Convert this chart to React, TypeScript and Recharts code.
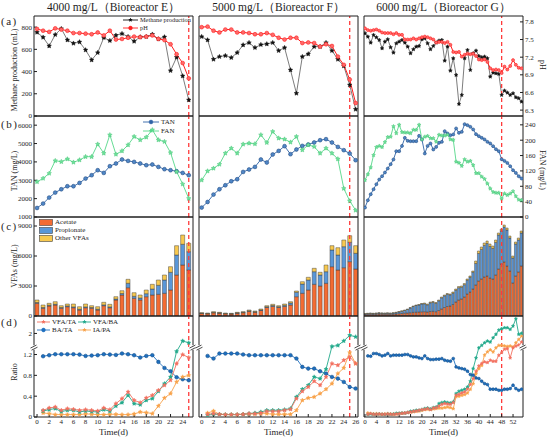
import React from 'react';
import { Bar, ComposedChart, Line, ReferenceDot, ReferenceLine, XAxis, YAxis } from 'recharts';

const FONT = '"Liberation Serif", "Times New Roman", serif';
const INK = '#1e1e1e';

// ---- days (x values) ----
const daysE = [0, 1, 2, 3, 4, 5, 6, 7, 8, 9, 10, 11, 12, 13, 14, 15, 16, 17, 18, 19, 20, 21, 22, 23, 24, 25];
const daysF = [0, 1, 2, 3, 4, 5, 6, 7, 8, 9, 10, 11, 12, 13, 14, 15, 16, 17, 18, 19, 20, 21, 22, 23, 24, 25, 26];
const daysG = [
  0, 1, 2, 3, 4, 5, 6, 7, 8, 9, 10, 11, 12, 13, 14, 15, 16, 17, 18, 19, 20, 21, 22, 23, 24, 25, 26, 27,
  28, 29, 30, 31, 32, 33, 34, 35, 36, 37, 38, 39, 40, 41, 42, 43, 44, 45, 46, 47, 48, 49, 50, 51, 52, 53, 54, 55,
];

// ---- tick labels ----
const ticksE = [0, 2, 4, 6, 8, 10, 12, 14, 16, 18, 20, 22, 24];
const ticksF = [0, 2, 4, 6, 8, 10, 12, 14, 16, 18, 20, 22, 24, 26];
const ticksG = [0, 4, 8, 12, 16, 20, 24, 28, 32, 36, 40, 44, 48, 52];
const minorG = [0, 2, 4, 6, 8, 10, 12, 14, 16, 18, 20, 22, 24, 26, 28, 30, 32, 34, 36, 38, 40, 42, 44, 46, 48, 50, 52, 54];
const methaneTicks = [0, 200, 400, 600, 800];
const phTicks = [6.3, 6.6, 6.9, 7.2, 7.5, 7.8];
const tanTicks = [1000, 2000, 3000, 4000, 5000, 6000];
const fanTicks = [0, 40, 80, 120, 160, 200, 240];
const vfaTicks = [0, 3000, 6000, 9000];
const ratioTicks = [0, 0.4, 0.8, 1.2, 2];
const ratioLabels = ['0', '0.4', '0.8', '1.2', '2'];

// ---- (a) methane production (mL) and pH ----
const methaneE = [753, 708, 630, 732, 786, 684, 654, 666, 594, 504, 570, 705, 678, 726, 741, 714, 672, 711, 714, 735, 693, 711, 408, 528, 360, 144];
const phE = [7.68, 7.65, 7.63, 7.69, 7.67, 7.65, 7.61, 7.61, 7.6, 7.59, 7.62, 7.57, 7.65, 7.5, 7.51, 7.53, 7.55, 7.54, 7.55, 7.57, 7.51, 7.49, 7.42, 7.25, 7.1, 6.84];
const methaneF = [714, 684, 510, 534, 543, 525, 570, 639, 660, 615, 642, 648, 660, 588, 615, 414, 204, 534, 558, 624, 624, 660, 588, 510, 450, 279, 60];
const phF = [7.71, 7.72, 7.65, 7.62, 7.67, 7.67, 7.62, 7.62, 7.61, 7.59, 7.59, 7.61, 7.58, 7.53, 7.5, 7.53, 7.53, 7.44, 7.45, 7.44, 7.38, 7.42, 7.39, 7.21, 7.07, 6.82, 6.42];
const methaneG = [
  744, 714, 660, 729, 708, 684, 609, 669, 690, 618, 570, 654, 669, 684, 660, 624, 564, 600, 624, 630, 690, 699, 654, 600, 630, 660, 678, 684,
  498, 624, 408, 519, 369, 108, 189, 519, 594, 414, 564, 588, 540, 528, 534, 519, 354, 390, 384, 378, 189, 228, 210, 189, 204, 168, 159, 129,
];
const phG = [
  7.69, 7.66, 7.65, 7.66, 7.67, 7.65, 7.62, 7.61, 7.61, 7.61, 7.59, 7.61, 7.58, 7.58, 7.5, 7.5, 7.5, 7.52, 7.5, 7.52, 7.54, 7.55, 7.54, 7.52, 7.5, 7.45, 7.46, 7.46,
  7.44, 7.46, 7.41, 7.29, 7.28, 7.29, 7.21, 7.24, 7.26, 7.25, 7.26, 7.22, 7.16, 7.15, 7.16, 7.12, 7.01, 6.98, 6.99, 6.98, 6.93, 7.04, 6.99, 7.05, 7.15, 7.07, 7.02, 7.01,
];

// ---- (b) TAN and FAN (mg/L) ----
const tanE = [1491, 1731, 2058, 2331, 2511, 2675, 2675, 2855, 3095, 3275, 3548, 3401, 3766, 3913, 4131, 4055, 4000, 3913, 3820, 3858, 3728, 3602, 3548, 3493, 3401, 3275];
const fanE = [91.6, 100.5, 113.6, 146.6, 144, 151, 142.4, 148.4, 157, 157, 189.5, 166, 213.8, 163.3, 172, 187.6, 209.4, 200.7, 207.8, 226.9, 200.7, 196.3, 167.5, 117.8, 85.6, 48.2];
const tanF = [1513, 1818, 2222, 2511, 2729, 2947, 3057, 3455, 3586, 3728, 4131, 3967, 4404, 4600, 4857, 4420, 4677, 4873, 4949, 5058, 5184, 5239, 5058, 4818, 4638, 4458, 4093];
const fanF = [96, 119.6, 126.7, 137.1, 166, 179, 166, 189.5, 192, 190.3, 213.8, 193.7, 222.4, 205.2, 202.6, 194.7, 209.4, 174.6, 187.6, 183.2, 166, 179, 166, 151, 74.3, 41.9, 17.5];
const tanG = [
  1513, 1911, 2238, 2511, 2784, 3040, 3220, 3422, 3640, 3875, 4131, 4584, 4584, 4873, 5309, 5146, 5129, 5129, 5129, 5419, 5222, 4458, 4873, 5004, 4677, 4818, 5037, 5091,
  5675, 5549, 5457, 5495, 5822, 5582, 5637, 6057, 6002, 5910, 5768, 5511, 5402, 5309, 5222, 5091, 5004, 4857, 4693, 4584, 4148, 4055, 3946, 3766, 3547, 3400, 3220, 3095,
];
const fanG = [
  96, 111, 129, 161, 182, 185, 182, 195, 208, 209, 236, 218, 240, 221, 220, 220, 218, 227, 227, 240, 202, 209, 211, 205, 205, 196, 214, 212,
  212, 214, 202, 201, 144, 141, 133, 150, 144, 146, 135, 114, 114, 105, 99, 87, 74, 65, 63, 63, 48, 61, 57, 61, 67, 54, 45, 44,
];

// ---- (c) VFAs (mg/L) ----
const acetE = [1270, 770, 1000, 1100, 770, 930, 830, 600, 830, 770, 600, 1030, 830, 1600, 2100, 2830, 1770, 1600, 1930, 2100, 2170, 2270, 2600, 4100, 5100, 4600];
const propE = [80, 80, 80, 80, 80, 80, 80, 80, 80, 80, 80, 80, 80, 100, 150, 440, 200, 200, 300, 600, 900, 1330, 1770, 2000, 2070, 1830];
const otherE = [250, 250, 190, 250, 180, 190, 290, 250, 290, 180, 250, 260, 260, 230, 280, 400, 360, 300, 370, 470, 530, 500, 560, 930, 930, 840];
const acetF = [250, 220, 320, 280, 220, 200, 280, 330, 470, 380, 550, 850, 950, 850, 950, 1100, 1930, 2270, 2600, 3170, 3000, 3270, 4930, 4600, 4830, 5430, 4700];
const propF = [30, 30, 40, 30, 30, 30, 30, 40, 50, 50, 60, 80, 100, 80, 120, 200, 440, 930, 1000, 1260, 1100, 1160, 1670, 1500, 2100, 1940, 1570];
const otherF = [50, 50, 70, 60, 50, 40, 60, 60, 80, 70, 90, 100, 120, 100, 130, 130, 130, 230, 270, 340, 270, 670, 430, 730, 670, 660, 760];
const acetG = [
  150, 160, 170, 160, 170, 190, 180, 170, 180, 170, 180, 200, 230, 250, 280, 300, 330, 360, 380, 400, 420, 430, 400, 450, 470, 430, 550, 700,
  850, 950, 1000, 1150, 1400, 1600, 1700, 1900, 2200, 2400, 2700, 3100, 3500, 3700, 3900, 4000, 3800, 3700, 4100, 4700, 5200, 5400, 5000, 4500, 3300, 4000, 4400, 5000,
];
const propG = [
  60, 80, 90, 80, 90, 100, 90, 90, 100, 90, 110, 130, 170, 220, 270, 350, 470, 590, 670, 700, 780, 790, 720, 870, 900, 840, 970, 1120,
  1170, 1220, 1120, 1130, 1180, 1230, 1180, 1230, 1380, 1480, 1680, 2150, 2750, 2950, 3150, 3250, 3150, 3050, 3250, 3400, 3300, 3500, 3600, 3300, 2500, 3200, 3200, 3300,
];
const otherG = [
  40, 40, 40, 40, 40, 40, 40, 40, 40, 40, 40, 50, 50, 50, 50, 50, 50, 50, 50, 50, 50, 80, 80, 80, 80, 80, 80, 80,
  80, 80, 80, 120, 120, 120, 120, 120, 120, 120, 120, 250, 250, 250, 250, 250, 250, 250, 250, 200, 200, 200, 200, 200, 200, 200, 200, 200,
];

// ---- (d) ratios, from day 1 ----
const vfaTaE = [0.129, 0.173, 0.192, 0.129, 0.16, 0.148, 0.129, 0.142, 0.129, 0.115, 0.173, 0.142, 0.257, 0.353, 0.481, 0.321, 0.277, 0.366, 0.417, 0.513, 0.609, 0.706, 1.026, 1.199, 1.142];
const vfaBaE = [0.115, 0.142, 0.162, 0.104, 0.129, 0.129, 0.096, 0.115, 0.104, 0.096, 0.142, 0.11, 0.212, 0.277, 0.417, 0.258, 0.238, 0.321, 0.354, 0.494, 0.642, 0.769, 1.26, 1.71, 1.64];
const baTaE = [1.167, 1.187, 1.206, 1.206, 1.206, 1.206, 1.199, 1.173, 1.18, 1.187, 1.206, 1.199, 1.192, 1.219, 1.206, 1.187, 1.142, 1.173, 1.187, 1.058, 0.942, 0.879, 0.763, 0.725, 0.706];
const iaPaE = [0.077, 0.065, 0.046, 0.046, 0.046, 0.046, 0.046, 0.058, 0.052, 0.046, 0.046, 0.052, 0.052, 0.046, 0.046, 0.058, 0.096, 0.085, 0.065, 0.212, 0.365, 0.45, 0.673, 0.769, 0.8];
const vfaTaF = [0.052, 0.065, 0.052, 0.046, 0.046, 0.046, 0.052, 0.065, 0.065, 0.077, 0.11, 0.11, 0.11, 0.129, 0.148, 0.354, 0.494, 0.577, 0.687, 0.61, 0.769, 1.027, 0.994, 1.09, 1.154, 1.027];
const vfaBaF = [0.033, 0.052, 0.052, 0.046, 0.046, 0.046, 0.052, 0.065, 0.077, 0.096, 0.129, 0.129, 0.129, 0.142, 0.162, 0.385, 0.533, 0.61, 0.769, 0.738, 0.917, 1.5, 1.54, 1.71, 1.93, 1.87];
const baTaF = [1.173, 1.123, 1.219, 1.219, 1.219, 1.219, 1.2, 1.187, 1.187, 1.187, 1.187, 1.187, 1.187, 1.187, 1.187, 1.123, 0.962, 0.93, 0.93, 0.879, 0.834, 0.769, 0.738, 0.673, 0.577, 0.546];
const iaPaF = [0.077, 0.115, 0.052, 0.046, 0.046, 0.046, 0.052, 0.058, 0.058, 0.065, 0.065, 0.052, 0.052, 0.052, 0.052, 0.129, 0.321, 0.365, 0.385, 0.45, 0.533, 0.642, 0.835, 0.942, 1.238, 1.027];
const vfaTaG = [
  0.052, 0.065, 0.052, 0.052, 0.058, 0.052, 0.052, 0.058, 0.052, 0.052, 0.058, 0.065, 0.071, 0.077, 0.085, 0.096, 0.11, 0.115, 0.129, 0.142,
  0.148, 0.162, 0.142, 0.173, 0.181, 0.212, 0.244, 0.258, 0.25, 0.244, 0.277, 0.417, 0.437, 0.462, 0.481, 0.533, 0.623, 0.738, 0.879, 0.981,
  1.027, 1.058, 1.046, 1.09, 1.071, 1.071, 1.187, 1.238, 1.302, 1.315, 1.135, 1.33, 1.515, 1.554, 1.669,
];
const vfaBaG = [
  0.046, 0.058, 0.052, 0.052, 0.058, 0.052, 0.046, 0.058, 0.052, 0.058, 0.071, 0.071, 0.077, 0.077, 0.085, 0.11, 0.115, 0.129, 0.129, 0.142,
  0.162, 0.173, 0.155, 0.181, 0.192, 0.258, 0.277, 0.29, 0.277, 0.27, 0.29, 0.45, 0.494, 0.513, 0.533, 0.577, 0.687, 0.93, 1.135, 1.33,
  1.542, 1.642, 1.708, 1.669, 1.835, 1.965, 2.13, 2.18, 2.22, 2.22, 2.157, 2.285, 2.565, 1.965, 2.004,
];
const baTaG = [
  1.173, 1.167, 1.219, 1.219, 1.2, 1.173, 1.187, 1.219, 1.173, 1.187, 1.187, 1.187, 1.187, 1.2, 1.2, 1.173, 1.154, 1.154, 1.135, 1.123,
  1.173, 1.123, 1.103, 1.103, 1.11, 1.11, 1.123, 1.09, 1.077, 1.071, 1.123, 0.962, 0.942, 0.93, 0.917, 0.879, 0.815, 0.802, 0.75, 0.738,
  0.687, 0.642, 0.623, 0.533, 0.533, 0.533, 0.513, 0.513, 0.533, 0.533, 0.546, 0.61, 0.546, 0.513, 0.533,
];
const iaPaG = [
  0.077, 0.065, 0.058, 0.065, 0.058, 0.052, 0.058, 0.065, 0.058, 0.052, 0.058, 0.065, 0.071, 0.077, 0.085, 0.096, 0.1, 0.11, 0.115, 0.129,
  0.142, 0.148, 0.142, 0.155, 0.162, 0.173, 0.17, 0.181, 0.19, 0.18, 0.16, 0.39, 0.4, 0.417, 0.43, 0.46, 0.53, 0.64, 0.83, 0.93,
  0.99, 1.19, 1.25, 1.29, 1.25, 1.33, 1.54, 1.54, 1.52, 1.5, 1.52, 1.48, 1.64, 1.77, 1.9,
];

const C = {
  methane: '#111111',
  methaneLine: '#5a5a5a',
  ph: '#ff1e1e',
  tan: '#2f63a6',
  fan: '#55d889',
  acet: '#f36b32',
  prop: '#5a97d8',
  other: '#f8c94f',
  vfaTa: '#f3705f',
  vfaBa: '#22a98b',
  baTa: '#1e6fbf',
  iaPa: '#f8a24a',
  cut: '#ff3a3a',
};

// axis break on the ratio panels: 0–1.33 below, 1.45 and up squeezed above
const brk = (v: number) => (v <= 1.33 ? v : 1.33 + Math.max(0, v - 1.45) * 0.5);

// layout of the 3 x 4 grid of plot areas (pixels)
const COLS = [
  { left: 34, width: 159, domain: [-0.5, 25.7], major: ticksE, minor: daysE, cut: 25 },
  { left: 199, width: 159, domain: [-0.45, 26.4], major: ticksF, minor: daysF, cut: 25 },
  { left: 364, width: 159, domain: [-0.35, 55.5], major: ticksG, minor: minorG, cut: 48 },
];
const ROWS = [
  { top: 16, height: 100 },
  { top: 116, height: 101 },
  { top: 217, height: 99 },
  { top: 316, height: 101 },
];
const ML = 40;
const MR = 32;
const MT = 4;
const MB = 16;
const AX = 1; // axes get 1px so recharts draws them

function table(days: number[], cols: Record<string, number[]>, map: (v: number) => number = (v) => v) {
  return days.map((day, i) => {
    const row: Record<string, number> = { day };
    Object.keys(cols).forEach((k) => {
      row[k] = map(cols[k][i]);
    });
    return row;
  });
}

function starDot(fill: string, r: number, stroke = fill) {
  return (p: any) => {
    const { cx, cy, index } = p;
    if (cx == null || cy == null) return <g key={`s${index}`} />;
    const pts: string[] = [];
    for (let i = 0; i < 10; i++) {
      const a = -Math.PI / 2 + (i * Math.PI) / 5;
      const rr = i % 2 ? r * 0.5 : r;
      pts.push(`${(cx + rr * Math.cos(a)).toFixed(2)},${(cy + rr * Math.sin(a)).toFixed(2)}`);
    }
    return <polygon key={`s${index}`} points={pts.join(' ')} fill={fill} stroke={stroke} strokeWidth={0.4} />;
  };
}

function ringDot(fill: string, stroke: string, r: number) {
  return (p: any) => {
    const { cx, cy, index } = p;
    if (cx == null || cy == null) return <g key={`c${index}`} />;
    return <circle key={`c${index}`} cx={cx} cy={cy} r={r} fill={fill} stroke={stroke} strokeWidth={0.6} />;
  };
}

const breakShape = (p: any) => (
  <g>
    <rect x={p.cx - 3.5} y={p.cy - 2.5} width={7} height={4.5} fill="#fff" />
    <line x1={p.cx - 3.5} y1={p.cy + 0.3} x2={p.cx + 2.5} y2={p.cy - 2.7} stroke={INK} strokeWidth={0.8} />
    <line x1={p.cx - 2.5} y1={p.cy + 2.4} x2={p.cx + 3.5} y2={p.cy - 0.6} stroke={INK} strokeWidth={0.8} />
  </g>
);

type AxisCfg = { domain: number[]; ticks: number[]; fmt?: (v: number, i: number) => string };

const tickFont = { fontSize: 7, fill: INK, fontFamily: FONT };

function Panel(props: {
  ci: number;
  ri: number;
  data: Record<string, number>[];
  yl: AxisCfg;
  yr: AxisCfg;
  rightLabels?: boolean;
  broken?: boolean;
  children: React.ReactNode;
}) {
  const { ci, ri, data, yl, yr, rightLabels, broken, children } = props;
  const col = COLS[ci];
  const row = ROWS[ri];
  const w = col.width + ML + MR;
  const h = row.height + MT + MB;
  return (
    <div style={{ position: 'absolute', left: col.left - ML, top: row.top - MT, width: w, height: h }}>
      <ComposedChart
        width={w}
        height={h}
        data={data}
        margin={{ top: MT - AX, right: MR - AX, bottom: MB - AX, left: ML - AX }}
      >
        <XAxis
          xAxisId="b"
          type="number"
          dataKey="day"
          domain={col.domain}
          ticks={col.major}
          interval={0}
          allowDataOverflow
          height={AX}
          tickSize={-3}
          tickMargin={5}
          tick={ri === 3 ? tickFont : false}
          stroke={INK}
        />
        <XAxis
          xAxisId="t"
          orientation="top"
          type="number"
          dataKey="day"
          domain={col.domain}
          ticks={col.minor}
          interval={0}
          allowDataOverflow
          height={AX}
          tickSize={-2}
          tick={false}
          stroke={INK}
        />
        <YAxis
          yAxisId="l"
          type="number"
          domain={yl.domain}
          ticks={yl.ticks}
          interval={0}
          allowDataOverflow
          width={AX}
          tickSize={-3}
          tickMargin={5}
          tick={ci === 0 ? tickFont : false}
          tickFormatter={yl.fmt}
          stroke={INK}
        />
        <YAxis
          yAxisId="r"
          orientation="right"
          type="number"
          domain={yr.domain}
          ticks={yr.ticks}
          interval={0}
          allowDataOverflow
          width={AX}
          tickSize={-3}
          tickMargin={5}
          tick={ci === 2 && rightLabels ? tickFont : false}
          tickFormatter={yr.fmt}
          stroke={INK}
        />
        {children}
        <ReferenceLine xAxisId="b" yAxisId="l" x={col.cut} stroke={C.cut} strokeDasharray="4 3" strokeWidth={1.3} />
        {broken && (
          <ReferenceDot xAxisId="b" yAxisId="l" x={col.domain[0]} y={1.33} r={0} ifOverflow="visible" shape={breakShape} />
        )}
        {broken && (
          <ReferenceDot xAxisId="b" yAxisId="l" x={col.domain[1]} y={1.33} r={0} ifOverflow="visible" shape={breakShape} />
        )}
      </ComposedChart>
    </div>
  );
}

const methaneAxis: AxisCfg = { domain: [0, 900], ticks: methaneTicks };
const phAxis: AxisCfg = { domain: [6.2, 7.9], ticks: phTicks, fmt: (v) => v.toFixed(1) };
const tanAxis: AxisCfg = { domain: [1000, 6500], ticks: tanTicks };
const fanAxis: AxisCfg = { domain: [0, 263], ticks: fanTicks };
const vfaAxis: AxisCfg = { domain: [0, 9900], ticks: vfaTicks };
const ratioAxis: AxisCfg = { domain: [0, 1.94], ticks: ratioTicks.map(brk), fmt: (_v, i) => ratioLabels[i] };

const groups = [
  {
    a: table(daysE, { methane: methaneE, ph: phE }),
    b: table(daysE, { tan: tanE, fan: fanE }),
    c: table(daysE, { acet: acetE, prop: propE, other: otherE }),
    d: table(daysE.slice(1), { vfaTa: vfaTaE, vfaBa: vfaBaE, baTa: baTaE, iaPa: iaPaE }, brk),
  },
  {
    a: table(daysF, { methane: methaneF, ph: phF }),
    b: table(daysF, { tan: tanF, fan: fanF }),
    c: table(daysF, { acet: acetF, prop: propF, other: otherF }),
    d: table(daysF.slice(1), { vfaTa: vfaTaF, vfaBa: vfaBaF, baTa: baTaF, iaPa: iaPaF }, brk),
  },
  {
    a: table(daysG, { methane: methaneG, ph: phG }),
    b: table(daysG, { tan: tanG, fan: fanG }),
    c: table(daysG, { acet: acetG, prop: propG, other: otherG }),
    d: table(daysG.slice(1), { vfaTa: vfaTaG, vfaBa: vfaBaG, baTa: baTaG, iaPa: iaPaG }, brk),
  },
];

const titles = ['4000 mg/L（Bioreactor E）', '5000 mg/L（Bioreactor F）', '6000 mg/L（Bioreactor G）'];

function Sample({ color, dot, w = 16 }: { color: string; dot: 'star' | 'circle' | 'rect'; w?: number }) {
  if (dot === 'rect') {
    return (
      <svg width={14} height={7} style={{ display: 'block' }}>
        <rect x={0.5} y={0.5} width={13} height={6} fill={color} stroke="#444" strokeWidth={0.6} />
      </svg>
    );
  }
  const cx = w / 2;
  const pts: string[] = [];
  for (let i = 0; i < 10; i++) {
    const a = -Math.PI / 2 + (i * Math.PI) / 5;
    const rr = i % 2 ? 1.1 : 2.3;
    pts.push(`${cx + rr * Math.cos(a)},${4 + rr * Math.sin(a)}`);
  }
  return (
    <svg width={w} height={8} style={{ display: 'block' }}>
      <line x1={0} y1={4} x2={w} y2={4} stroke={color} strokeWidth={0.9} />
      {dot === 'star' ? (
        <polygon points={pts.join(' ')} fill={color} />
      ) : (
        <circle cx={cx} cy={4} r={1.9} fill={color} stroke={color} strokeWidth={0.5} />
      )}
    </svg>
  );
}

function Key(props: { x: number; y: number; color: string; dot: 'star' | 'circle' | 'rect'; label: string; w?: number; size?: number }) {
  const { x, y, color, dot, label, w, size = 7 } = props;
  return (
    <div
      style={{
        position: 'absolute',
        left: x,
        top: y - 4,
        height: 8,
        display: 'flex',
        alignItems: 'center',
        gap: 2,
        fontFamily: FONT,
        fontSize: size,
        color: INK,
        whiteSpace: 'nowrap',
        lineHeight: '8px',
      }}
    >
      <Sample color={color} dot={dot} w={w} />
      <span>{label}</span>
    </div>
  );
}

function VText({ x, y, text, rot, size = 8 }: { x: number; y: number; text: string; rot: number; size?: number }) {
  return (
    <div
      style={{
        position: 'absolute',
        left: x,
        top: y,
        transform: `translate(-50%, -50%) rotate(${rot}deg)`,
        fontFamily: FONT,
        fontSize: size,
        color: INK,
        whiteSpace: 'nowrap',
      }}
    >
      {text}
    </div>
  );
}

export default function App() {
  return (
    <div style={{ position: 'absolute', left: 0, top: 0, width: 550, height: 438, background: '#fff', overflow: 'hidden' }}>
      {groups.map((g, ci) => (
        <React.Fragment key={ci}>
          <Panel ci={ci} ri={0} data={g.a} yl={methaneAxis} yr={phAxis} rightLabels>
            <Line
              xAxisId="b"
              yAxisId="l"
              dataKey="methane"
              stroke={C.methaneLine}
              strokeWidth={0.8}
              dot={starDot(C.methane, ci === 2 ? 2 : 2.4)}
              isAnimationActive={false}
            />
            <Line
              xAxisId="b"
              yAxisId="r"
              dataKey="ph"
              stroke={C.ph}
              strokeWidth={1}
              dot={ringDot('#ff6a6a', C.ph, ci === 2 ? 1.5 : 1.9)}
              isAnimationActive={false}
            />
          </Panel>
          <Panel ci={ci} ri={1} data={g.b} yl={tanAxis} yr={fanAxis} rightLabels>
            <Line
              xAxisId="b"
              yAxisId="l"
              dataKey="tan"
              stroke={C.tan}
              strokeWidth={0.9}
              dot={ringDot('#4f86c6', '#264f85', ci === 2 ? 1.5 : 1.9)}
              isAnimationActive={false}
            />
            <Line
              xAxisId="b"
              yAxisId="r"
              dataKey="fan"
              stroke={C.fan}
              strokeWidth={0.9}
              dot={starDot('#6fe09a', ci === 2 ? 2 : 2.4, '#3fbf72')}
              isAnimationActive={false}
            />
          </Panel>
          <Panel ci={ci} ri={2} data={g.c} yl={vfaAxis} yr={vfaAxis}>
            {[
              ['acet', C.acet],
              ['prop', C.prop],
              ['other', C.other],
            ].map(([k, color]) => (
              <Bar
                key={k}
                xAxisId="b"
                yAxisId="l"
                dataKey={k}
                stackId="vfa"
                fill={color}
                stroke="#3a3a3a"
                strokeWidth={0.45}
                barSize={ci === 2 ? 2.2 : 4}
                isAnimationActive={false}
              />
            ))}
          </Panel>
          <Panel ci={ci} ri={3} data={g.d} yl={ratioAxis} yr={ratioAxis} broken>
            {[
              ['baTa', C.baTa, 'circle'],
              ['iaPa', C.iaPa, 'star'],
              ['vfaBa', C.vfaBa, 'star'],
              ['vfaTa', C.vfaTa, 'star'],
            ].map(([k, color, m]) => (
              <Line
                key={k}
                xAxisId="b"
                yAxisId="l"
                dataKey={k}
                stroke={color}
                strokeWidth={0.9}
                dot={m === 'circle' ? ringDot(color, '#15508c', ci === 2 ? 1.4 : 1.8) : starDot(color, ci === 2 ? 1.8 : 2.2)}
                isAnimationActive={false}
              />
            ))}
          </Panel>
          <div
            style={{
              position: 'absolute',
              left: COLS[ci].left,
              width: COLS[ci].width,
              top: 0,
              textAlign: 'center',
              fontFamily: FONT,
              fontSize: 11.5,
              lineHeight: '15px',
              color: INK,
              whiteSpace: 'nowrap',
            }}
          >
            {titles[ci]}
          </div>
          <div
            style={{
              position: 'absolute',
              left: COLS[ci].left,
              width: COLS[ci].width,
              top: 426,
              textAlign: 'center',
              fontFamily: FONT,
              fontSize: 9,
              lineHeight: '12px',
              color: INK,
            }}
          >
            Time(d)
          </div>
        </React.Fragment>
      ))}

      {['(a)', '(b)', '(c)', '(d)'].map((t, i) => (
        <div
          key={t}
          style={{
            position: 'absolute',
            left: 1,
            top: [15, 118, 220, 316][i],
            fontFamily: FONT,
            fontSize: 11,
            lineHeight: '13px',
            letterSpacing: 1.5,
            color: INK,
          }}
        >
          {t}
        </div>
      ))}

      <VText x={14} y={70} text="Methane production (mL)" rot={-90} />
      <VText x={14} y={171} text="TAN (mg/L)" rot={-90} />
      <VText x={14} y={266} text="VFAs (mg/L)" rot={-90} />
      <VText x={14} y={372} text="Ratio" rot={-90} />
      <VText x={542} y={65} text="pH" rot={90} />
      <VText x={542} y={170} text="FAN (mg/L)" rot={90} />

      <Key x={123} y={20} color={C.methane} dot="star" label="Methane production" size={6.3} w={15} />
      <Key x={123} y={28} color={C.ph} dot="circle" label="pH" size={6.3} w={15} />
      <Key x={143} y={122} color={C.tan} dot="circle" label="TAN" />
      <Key x={143} y={131} color={C.fan} dot="star" label="FAN" />
      <Key x={39} y={222} color={C.acet} dot="rect" label="Acetate" />
      <Key x={39} y={230} color={C.prop} dot="rect" label="Propionate" />
      <Key x={39} y={238} color={C.other} dot="rect" label="Other VFAs" />
      <Key x={37} y={322} color={C.vfaTa} dot="star" label="VFA/TA" w={13} />
      <Key x={78} y={322} color={C.vfaBa} dot="star" label="VFA/BA" w={13} />
      <Key x={37} y={330} color={C.baTa} dot="circle" label="BA/TA" w={13} />
      <Key x={78} y={330} color={C.iaPa} dot="star" label="IA/PA" w={13} />
    </div>
  );
}
